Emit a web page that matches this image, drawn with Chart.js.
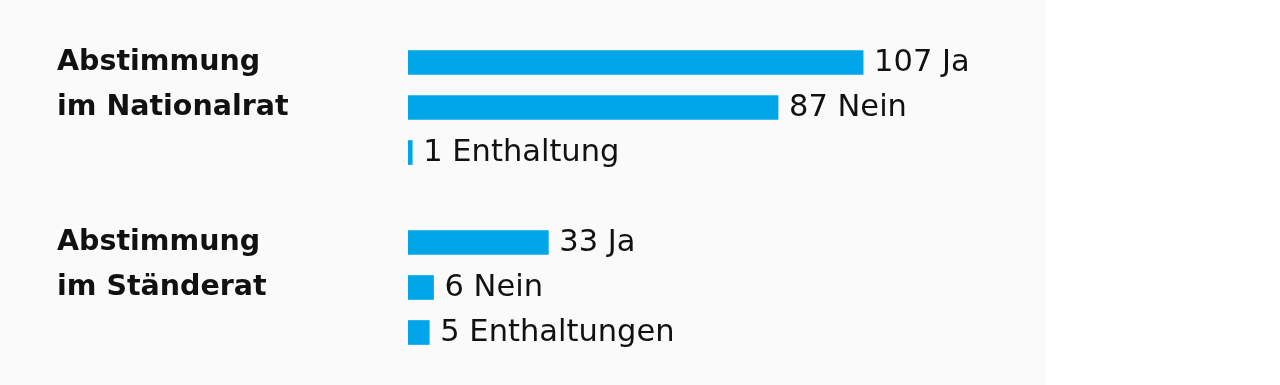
<!DOCTYPE html>
<html>
<head>
<meta charset="utf-8">
<script src="https://cdn.jsdelivr.net/npm/chart.js@4.4.1/dist/chart.umd.min.js"></script>
<style>
  html, body { margin: 0; padding: 0; background: #ffffff; }
  #wrap { width: 1280px; height: 385px; position: relative; }
</style>
</head>
<body>
<div id="wrap"><canvas id="myChart" width="1280" height="385"></canvas></div>
<script>
// Zeilen: Beschriftung links, Wert und Bezeichnung rechts vom Balken
const zeilen = ['Abstimmung', 'im Nationalrat', '', '', 'Abstimmung', 'im Ständerat', ''];
const stimmen = [107, 87, 1, null, 33, 6, 5];
const bezeichnungen = ['Ja', 'Nein', 'Enthaltung', '', 'Ja', 'Nein', 'Enthaltungen'];

const schrift = '"DejaVu Sans", "Noto Sans", sans-serif';
const blau = '#00a6e7';

// Hintergrund (hellgrau bis zum rechten Rand der Grafik)
const hintergrund = {
    id: 'hintergrund',
    beforeDraw(chart) {
        const c = chart.ctx;
        c.save();
        c.fillStyle = '#fafafa';
        c.fillRect(0, 0, chart.chartArea.right, chart.height);
        c.restore();
    }
};

// Werte rechts neben die Balken schreiben
const wertLabels = {
    id: 'wertLabels',
    afterDatasetsDraw(chart) {
        const c = chart.ctx;
        const meta = chart.getDatasetMeta(0);
        c.save();
        c.font = '30.5px ' + schrift;
        c.fillStyle = '#111111';
        c.textBaseline = 'middle';
        meta.data.forEach((bar, i) => {
            if (stimmen[i] == null) return;
            c.fillText(stimmen[i] + ' ' + bezeichnungen[i], bar.x + 11, bar.y + 1);
        });
        c.restore();
    }
};

const ctx = document.getElementById('myChart').getContext('2d');
const chart = new Chart(ctx, {
    type: 'bar',
    data: {
        labels: zeilen,
        datasets: [{
            data: stimmen,
            backgroundColor: blau,
            borderWidth: 0,
            barThickness: 24
        }]
    },
    options: {
        indexAxis: 'y',
        responsive: false,
        animation: false,
        layout: { padding: { left: 57, right: 234, top: 40, bottom: 30 } },
        plugins: { legend: { display: false }, tooltip: { enabled: false } },
        scales: {
            x: {
                min: 0,
                max: 150,
                display: false
            },
            y: {
                grid: { display: false },
                border: { display: false },
                afterFit(scale) { scale.width = 351; },
                ticks: {
                    crossAlign: 'far',
                    color: '#111111',
                    font: { family: schrift, size: 28.5, weight: 'bold' }
                }
            }
        }
    },
    plugins: [hintergrund, wertLabels]
});
</script>
</body>
</html>
